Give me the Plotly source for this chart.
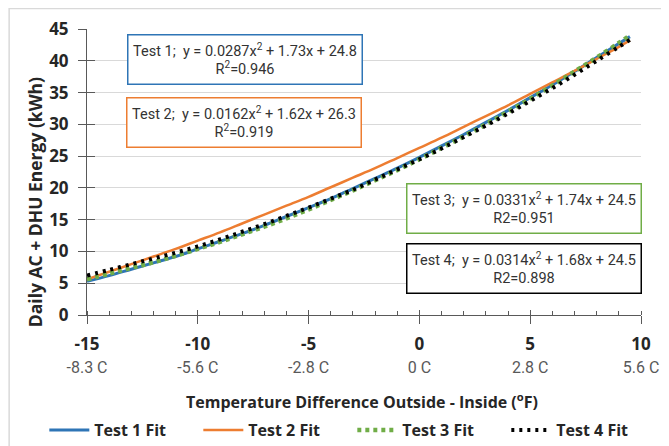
import plotly.graph_objects as go

# x values (°F temperature difference)
x_vals = [-15, -14, -13, -12, -11, -10, -9, -8, -7, -6, -5, -4, -3, -2, -1,
          0, 1, 2, 3, 4, 5, 6, 7, 8, 9, 9.5]

test1 = [5.3, 6.2, 7.2, 8.2, 9.2, 10.4, 11.6, 12.8, 14.1, 15.5, 16.9, 18.3, 19.9,
         21.5, 23.1, 24.8, 26.6, 28.4, 30.3, 32.2, 34.2, 36.2, 38.3, 40.5, 42.7, 43.8]
test2 = [5.6, 6.8, 8.0, 9.2, 10.4, 11.7, 13.0, 14.4, 15.8, 17.2, 18.6, 20.1, 21.6,
         23.1, 24.7, 26.3, 27.9, 29.6, 31.3, 33.0, 34.8, 36.6, 38.4, 40.3, 42.2, 43.2]
test3 = [5.6, 6.5, 7.4, 8.3, 9.3, 10.4, 11.5, 12.7, 13.9, 15.2, 16.6, 18.1, 19.6,
         21.2, 22.8, 24.5, 26.3, 28.1, 30.0, 32.0, 34.0, 36.1, 38.3, 40.5, 42.8, 44.0]
test4 = [6.2, 7.1, 8.0, 8.9, 9.8, 10.8, 11.9, 13.1, 14.3, 15.6, 16.9, 18.3, 19.7,
         21.3, 22.9, 24.5, 26.2, 28.0, 29.8, 31.7, 33.7, 35.7, 37.8, 40.0, 42.2, 43.3]

series_names = ["Test 1 Fit", "Test 2 Fit", "Test 3 Fit", "Test 4 Fit"]

x_tick_vals = [-15, -10, -5, 0, 5, 10]
x_tick_f = ["-15", "-10", "-5", "0", "5", "10"]
x_tick_c = ["-8.3 C", "-5.6 C", "-2.8 C", "0 C", "2.8 C", "5.6 C"]

fit_texts = [
    "Test 1;  y = 0.0287x<sup>2</sup> + 1.73x + 24.8<br>R<sup>2</sup>=0.946",
    "Test 2;  y = 0.0162x<sup>2</sup> + 1.62x + 26.3<br>R<sup>2</sup>=0.919",
    "Test 3;  y = 0.0331x<sup>2</sup> + 1.74x + 24.5<br>R2=0.951",
    "Test 4;  y = 0.0314x<sup>2</sup> + 1.68x + 24.5<br>R2=0.898",
]

NFONT = "Roboto, sans-serif"
BFONT = "Open Sans, Lato, sans-serif"

# page body has an 8px margin: work in screen pixels and shift by OFF
OFF = 8
W, H = 669 - OFF, 446 - OFF
X0S, X1S, Y0S, Y1S = 86.7, 641, 315, 29.3  # plot area in screen pixels
L = X0S - OFF
R = W - (X1S - OFF)
T = Y1S - OFF
B = H - (Y0S - OFF)
pw, ph = W - L - R, H - T - B

def px(xs):
    return (xs - OFF - L) / pw

def py(ys):
    return (H - B - (ys - OFF)) / ph

fig = go.Figure()
fig.add_trace(go.Scatter(x=x_vals, y=test1, name=series_names[0], mode="lines",
                         line=dict(color="#2e75b6", width=3, shape="spline")))
fig.add_trace(go.Scatter(x=x_vals, y=test2, name=series_names[1], mode="lines",
                         line=dict(color="#ed7d31", width=2.5, shape="spline")))
fig.add_trace(go.Scatter(x=x_vals, y=test3, name=series_names[2], mode="lines",
                         line=dict(color="#70ad47", width=4.5, shape="spline", dash="4px,4px")))
fig.add_trace(go.Scatter(x=x_vals, y=test4, name=series_names[3], mode="lines",
                         line=dict(color="#000000", width=4, shape="spline", dash="3px,5px")))

ticktext = [f"<b>{f}</b><br><span style='font-family:Roboto;font-size:16px;font-weight:normal;color:#595959'>{c}</span>"
            for f, c in zip(x_tick_f, x_tick_c)]

AX = "#595959"
fig.update_layout(
    xaxis=dict(range=[-15, 10], tickvals=x_tick_vals, ticktext=ticktext,
               showgrid=False, zeroline=False, showline=True, linecolor=AX,
               linewidth=1, ticks="outside", ticklen=8, tickcolor=AX,
               ticklabelstandoff=6, automargin=False,
               tickfont=dict(family=BFONT, size=17, color="#262626"),
               minor=dict(dtick=1, ticks="inside", ticklen=4, tickcolor=AX, showgrid=False)),
    yaxis=dict(range=[0, 45], dtick=5, showgrid=True, gridcolor="#d9d9d9", gridwidth=1,
               zeroline=False, showline=True, linecolor=AX, linewidth=1,
               ticks="outside", ticklen=8, tickcolor=AX, automargin=False,
               ticklabelstandoff=6,
               tickfont=dict(family=BFONT, size=17, color="#262626", weight="bold")),
    xaxis2=dict(range=[-15, 10], overlaying="x", anchor="y", side="bottom",
                tickvals=x_tick_vals, showticklabels=False, ticks="inside", ticklen=5,
                tickcolor=AX, showgrid=False, zeroline=False, showline=False, automargin=False),
    yaxis2=dict(range=[0, 45], overlaying="y", anchor="x", side="left", dtick=5,
                showticklabels=False, ticks="inside", ticklen=8, tickcolor=AX,
                showgrid=False, zeroline=False, showline=False, automargin=False),
)
# invisible helper trace so the overlay axes (crossing tick halves) are drawn
fig.add_trace(go.Scatter(x=[x_vals[0]], y=[test1[0]], xaxis="x2", yaxis="y2", mode="lines",
                         showlegend=False, hoverinfo="skip", line=dict(width=0)))

annots = []
box_specs = [
    (244.5, 59.5, "#2e75b6"),
    (243.5, 122.5, "#ed7d31"),
    (523.5, 208.5, "#70ad47"),
    (523.5, 268.5, "#000000"),
]
for txt, (cx, cy, col) in zip(fit_texts, box_specs):
    annots.append(dict(xref="paper", yref="paper", x=px(cx), y=py(cy), text=txt,
                       showarrow=False, xanchor="center", yanchor="middle",
                       font=dict(family=NFONT, size=14.5, color="#333333"),
                       bordercolor=col, borderwidth=1.5, borderpad=2, bgcolor="white",
                       width=229, height=44, align="center"))

annots.append(dict(xref="paper", yref="paper", x=px(362), y=py(401),
                   text="<b>Temperature Difference Outside - Inside (<sup>o</sup>F)</b>",
                   showarrow=False, xanchor="center", yanchor="middle",
                   font=dict(family=BFONT, size=16, color="#262626")))
annots.append(dict(xref="paper", yref="paper", x=px(35), y=py(202),
                   text="<b>Daily AC + DHU Energy (kWh)</b>", textangle=-90,
                   showarrow=False, xanchor="center", yanchor="middle",
                   font=dict(family=BFONT, size=17.5, color="#262626")))

fig.update_layout(
    width=W, height=H,
    margin=dict(l=L, r=R, t=T, b=B, autoexpand=False),
    paper_bgcolor="white", plot_bgcolor="white",
    showlegend=True,
    legend=dict(orientation="h", xref="paper", yref="paper",
                x=px(44), y=py(413), xanchor="left", yanchor="top",
                entrywidth=99, entrywidthmode="pixels", itemwidth=40,
                font=dict(family=BFONT, size=16, color="#262626", weight="bold"),
                bgcolor="rgba(0,0,0,0)"),
    annotations=annots,
    shapes=[dict(type="rect", xref="paper", yref="paper",
                 x0=px(OFF + 0.8), x1=px(662), y0=py(470), y1=py(OFF + 0.8),
                 line=dict(color="#d9d9d9", width=1.5), layer="below")],
)

fig.write_html("out.html")
